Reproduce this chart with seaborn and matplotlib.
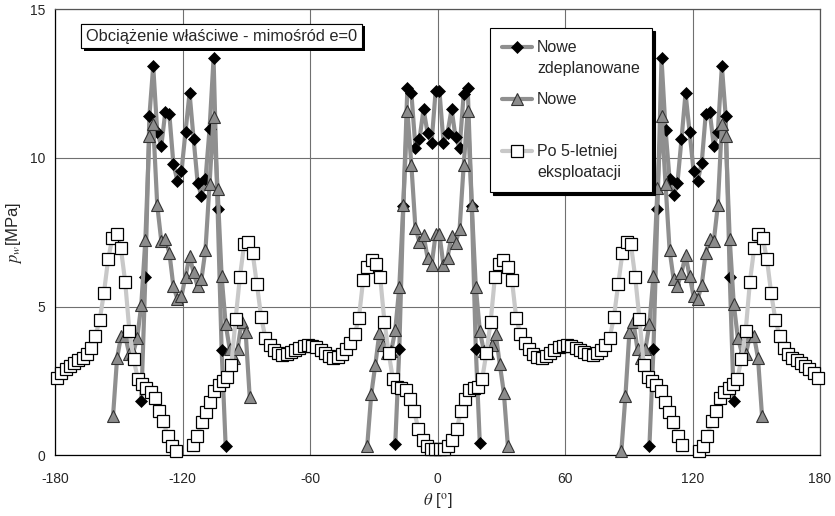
import numpy as np
import pandas as pd
import seaborn as sns
import matplotlib.pyplot as plt
import matplotlib.patheffects as pe
from matplotlib.lines import Line2D
from matplotlib.legend_handler import HandlerLine2D

# ---- data: theta [deg], p_w [MPa] ----
# "Po 5-letniej eksploatacji" (every 2 deg)
theta_sq = list(range(-179, 180, 2))
sq_left = [2.61, 2.76, 2.90, 3.01, 3.11, 3.20, 3.29, 3.40, 3.62, 4.01,
           4.55, 5.45, 6.60, 7.32, 7.46, 6.96, 5.84, 4.18, 3.23, 2.56,
           2.41, 2.28, 2.12, 1.94, 1.49, 1.15, 0.65, 0.31, 0.14, np.nan,
           np.nan, np.nan, 0.34, 0.65, 1.12, 1.45, 1.80, 2.15, 2.36, 2.50,
           2.65, 3.05, 4.60, 6.00, 7.10, 7.18, 6.80, 5.75, 4.65, 3.95,
           3.70, 3.55, 3.43, 3.38, 3.42, 3.48, 3.55, 3.62, 3.68, 3.71,
           3.69, 3.64, 3.55, 3.44, 3.33, 3.29, 3.32, 3.42, 3.58, 3.77,
           4.07, 4.63, 5.90, 6.35, 6.57, 6.45, 6.00, 4.50, 3.45, 2.56,
           2.30, 2.28, 2.20, 1.90, 1.49, 0.87, 0.52, 0.31, 0.22, 0.20]
sq_right = [0.20, 0.22, 0.31, 0.52, 0.87, 1.49, 1.90, 2.20, 2.28, 2.30,
            2.56, 3.45, 4.50, 6.00, 6.45, 6.57, 6.35, 5.90, 4.63, 4.07,
            3.77, 3.58, 3.42, 3.32, 3.29, 3.33, 3.44, 3.55, 3.64, 3.69,
            3.71, 3.68, 3.62, 3.55, 3.48, 3.42, 3.38, 3.43, 3.55, 3.70,
            3.95, 4.65, 5.75, 6.80, 7.18, 7.10, 6.00, 4.60, 3.05, 2.65,
            2.50, 2.36, 2.15, 1.80, 1.45, 1.12, 0.65, 0.34, np.nan, np.nan,
            np.nan, 0.14, 0.31, 0.65, 1.15, 1.49, 1.94, 2.12, 2.28, 2.41,
            2.56, 3.23, 4.18, 5.84, 6.96, 7.46, 7.32, 6.60, 5.45, 4.55,
            4.01, 3.62, 3.40, 3.29, 3.20, 3.11, 3.01, 2.90, 2.76, 2.61]

# angles of the three clusters of "Nowe" / "Nowe zdeplanowane"
th_left = [-152.7, -150.8, -148.9, -147.0, -145.1, -143.2, -141.3, -139.4, -137.5,
           -135.6, -133.8, -131.9, -130.0, -128.1, -126.2, -124.3, -122.4, -120.5,
           -118.6, -116.7, -114.8, -112.9, -111.1, -109.2, -107.3, -105.4, -103.5,
           -101.6, -99.7, -97.8, -95.9, -94.1, -92.2, -90.3, -88.4]
th_mid = [-33.1, -31.2, -29.3, -27.4, -25.5, -23.7, -21.8, -19.9, -18.0, -16.1,
          -14.2, -12.3, -10.4, -8.5, -6.6, -4.7, -2.8, -0.9, 0.9, 2.8, 4.7, 6.6,
          8.5, 10.4, 12.3, 14.2, 16.1, 18.0, 19.9, 21.8, 23.7, 25.5, 27.4, 29.3,
          31.2, 33.1]
th_right = [86.5, 88.4, 90.3, 92.2, 94.1, 95.9, 97.8, 99.7, 101.6, 103.5, 105.4,
            107.3, 109.2, 111.1, 112.9, 114.8, 116.7, 118.6, 120.5, 122.4, 124.3,
            126.2, 128.1, 130.0, 131.9, 133.8, 135.6, 137.5, 139.4, 141.3, 143.2,
            145.1, 147.0, 148.9, 150.8, 152.7]

# "Nowe"
tri_left = [1.32, 3.27, 4.02, 4.02, 3.42, 3.45, 3.96, 5.07, 7.25, 10.75, 11.13,
            8.41, 7.21, 7.26, 6.82, 5.68, 5.26, 5.35, 6.01, 6.70, 6.15, 5.68,
            5.92, 6.92, 9.11, 11.38, 8.96, 6.02, 4.41, 3.57, 3.29, 3.57, 4.49,
            4.14, 1.97]
tri_mid = [0.31, 2.05, 3.03, 4.10, 3.70, 3.43, 3.51, 4.20, 5.67, 8.41, 11.58,
           9.75, 7.64, 7.18, 7.40, 6.65, 6.39, 7.43, 7.43, 6.39, 6.65, 7.38,
           7.15, 7.62, 9.75, 11.58, 8.41, 5.67, 4.18, 3.51, 3.43, 3.70, 4.07,
           3.06, 2.11, 0.31]
tri_right = [0.14, 1.98, 4.16, 4.48, 3.56, 3.29, 3.56, 4.41, 6.03, 9.00, 11.41,
             9.11, 6.90, 5.92, 5.69, 6.14, 6.73, 6.03, 5.36, 5.25, 5.72, 6.82,
             7.27, 7.21, 8.41, 11.13, 10.74, 7.27, 5.08, 3.96, 3.45, 3.42, 4.02,
             4.02, 3.27, 1.32]

# "Nowe zdeplanowane" (on th_*[7:29])
dia_left = [1.83, 6.00, 11.41, 13.09, 10.88, 10.40, 11.55, 11.47, 9.80, 9.23,
            9.55, 10.88, 12.19, 10.65, 9.17, 8.72, 9.28, 10.96, 13.35, 8.28,
            3.55, 0.31]
dia_mid = [0.39, 3.57, 8.39, 12.37, 12.17, 10.35, 10.63, 11.64, 10.85, 10.52,
           12.25, 12.25, 10.52, 10.85, 11.64, 10.69, 10.35, 12.14, 12.37, 8.39,
           3.58, 0.40]
dia_right = [0.31, 3.56, 8.30, 13.35, 10.94, 9.28, 8.74, 9.17, 10.63, 12.18,
             10.88, 9.56, 9.23, 9.82, 11.47, 11.55, 10.40, 10.88, 13.09, 11.41,
             6.01, 1.83]

labels = ["Nowe zdeplanowane", "Nowe", "Po 5-letniej eksploatacji"]
leg_labels = ["Nowe\nzdeplanowane", "Nowe\n", "Po 5-letniej\neksploatacji"]

# ---- long table ----
rows = []
for seg, (th, p) in enumerate([(th_left[7:29], dia_left), (th_mid[7:29], dia_mid),
                               (th_right[7:29], dia_right)]):
    rows += [(t, v, labels[0], seg) for t, v in zip(th, p)]
for seg, (th, p) in enumerate([(th_left, tri_left), (th_mid, tri_mid),
                               (th_right, tri_right)]):
    rows += [(t, v, labels[1], seg) for t, v in zip(th, p)]
p_sq = sq_left + sq_right
seg = 0
for t, v in zip(theta_sq, p_sq):
    if np.isnan(v):
        seg += 1
        continue
    rows.append((t, v, labels[2], seg))
df = pd.DataFrame(rows, columns=["theta", "p", "seria", "seg"])

sns.set_style("white")
plt.rcParams["font.family"] = ["Liberation Sans", "DejaVu Sans"]
plt.rcParams["mathtext.fontset"] = "stix"
plt.rcParams["axes.unicode_minus"] = False

fig = plt.figure(figsize=(8.35, 5.16), dpi=100)
ax = fig.add_axes([0.0659, 0.1176, 0.9162, 0.8643])

styles = {
    labels[0]: dict(color="#8f8f8f", marker="D", markersize=6.5,
                    markerfacecolor="black", markeredgecolor="black",
                    markeredgewidth=0.5, zorder=3),
    labels[1]: dict(color="#8f8f8f", marker="^", markersize=8.5,
                    markerfacecolor="#8c8c8c", markeredgecolor="#333333",
                    markeredgewidth=0.8, zorder=4),
    labels[2]: dict(color="#c8c8c8", marker="s", markersize=8.3,
                    markerfacecolor="white", markeredgecolor="black",
                    markeredgewidth=0.9, zorder=5),
}
for lab in labels:
    sns.lineplot(data=df[df["seria"] == lab], x="theta", y="p", units="seg",
                 estimator=None, sort=False, lw=3, legend=False, ax=ax,
                 clip_on=False, **styles[lab])

ax.set_xlim(-180, 180)
ax.set_ylim(0, 15)
ax.set_xticks(range(-180, 181, 60))
ax.set_yticks(range(0, 16, 5))
ax.grid(True, color="#707070", lw=0.8)
ax.set_axisbelow(True)
for s in ax.spines.values():
    s.set_color("#555555")
    s.set_linewidth(0.9)
ax.spines["left"].set_color("black")
ax.spines["bottom"].set_color("black")
ax.tick_params(axis="both", direction="out", length=4, width=0.8,
               labelsize=10, color="black", pad=3)
ax.tick_params(axis="x", pad=8)
ax.set_xlabel(r"$\theta$ [$^{\rm o}$]", fontsize=12, labelpad=4)
ax.set_ylabel(r"$p_w$[MPa]", fontsize=12, labelpad=4)


class FirstLineHandler(HandlerLine2D):
    # put the legend line on the first text line, like the original
    def create_artists(self, legend, orig_handle, xdescent, ydescent,
                       width, height, fontsize, trans):
        return super().create_artists(legend, orig_handle, xdescent,
                                      ydescent - 1.45 * fontsize, width,
                                      height, fontsize, trans)


handles = [Line2D([], [], lw=3, **{k: v for k, v in styles[lab].items() if k != "zorder"})
           for lab in labels]
leg = ax.legend(handles, leg_labels, loc="upper left",
                bbox_to_anchor=(490 / 835, 1 - 28 / 516),
                bbox_transform=fig.transFigure, fontsize=11.5,
                frameon=True, fancybox=False, edgecolor="black",
                shadow={"color": "black", "alpha": 1}, handlelength=1.9,
                handletextpad=0.3, labelspacing=1.0, borderpad=0.75,
                borderaxespad=0,
                handler_map={Line2D: FirstLineHandler()})
leg.get_frame().set_linewidth(0.8)
for txt in leg.get_texts():
    txt.set_linespacing(1.5)

t = fig.text(86 / 835, 1 - 36 / 516, "Obciążenie właściwe - mimośród e=0",
             fontsize=11.8, ha="left", va="center",
             bbox=dict(boxstyle="square,pad=0.3", fc="white", ec="black", lw=0.8))
t.get_bbox_patch().set_path_effects(
    [pe.withSimplePatchShadow(offset=(2, -2), shadow_rgbFace="black", alpha=1),
     pe.Normal()])

fig.savefig("out.png", dpi=100)
